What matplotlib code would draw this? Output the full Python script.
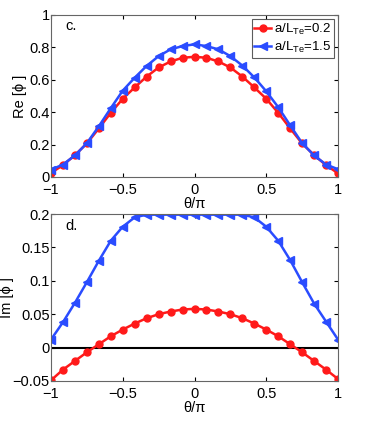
import numpy as np
import matplotlib
matplotlib.use('Agg')
import matplotlib.pyplot as plt

plt.rcParams['font.family'] = ['Liberation Sans', 'DejaVu Sans']
plt.rcParams['mathtext.fontset'] = 'custom'
plt.rcParams['mathtext.rm'] = 'Liberation Sans'
plt.rcParams['mathtext.it'] = 'Liberation Sans'

theta = np.linspace(-1, 1, 25)

re_02 = [0.025, 0.073, 0.135, 0.207, 0.300, 0.396, 0.483, 0.553, 0.620, 0.676, 0.713, 0.736, 0.742,
         0.736, 0.713, 0.676, 0.620, 0.553, 0.483, 0.396, 0.300, 0.207, 0.135, 0.073, 0.023]
re_15 = [0.045, 0.077, 0.133, 0.209, 0.313, 0.425, 0.533, 0.613, 0.686, 0.746, 0.788, 0.808, 0.819,
         0.808, 0.788, 0.746, 0.688, 0.615, 0.529, 0.431, 0.319, 0.209, 0.133, 0.077, 0.048]
im_02 = [-0.049, -0.033, -0.020, -0.007, 0.005, 0.017, 0.027, 0.036, 0.044, 0.050, 0.054, 0.057, 0.058,
         0.057, 0.054, 0.050, 0.044, 0.036, 0.027, 0.017, 0.005, -0.007, -0.020, -0.033, -0.047]
im_15 = [0.012, 0.038, 0.067, 0.098, 0.130, 0.160, 0.181, 0.195, 0.199, 0.199, 0.199, 0.199, 0.199,
         0.199, 0.199, 0.199, 0.199, 0.195, 0.181, 0.160, 0.131, 0.098, 0.066, 0.039, 0.012]

red = '#ff1a1a'
blue = '#2a4cff'

fig = plt.figure(figsize=(3.74, 4.28), dpi=100)
ax1 = fig.add_axes([51/374, 1-177/428, 287/374, 162/428])
ax2 = fig.add_axes([51/374, 1-381/428, 287/374, 167/428])

for ax in [ax1, ax2]:
    ax.tick_params(direction='in', top=True, right=True, labelsize=10.5, length=3)
    ax.tick_params(axis='x', pad=4.5)
    ax.tick_params(axis='y', pad=1)
    for s in ax.spines.values():
        s.set_color('#666666')
        s.set_linewidth(0.8)
    ax.set_xlim(-1, 1)
    ax.set_xticks([-1, -0.5, 0, 0.5, 1])
    ax.set_xticklabels(['\u22121', '\u22120.5', '0', '0.5', '1'])
    ax.set_xlabel('\u03b8/\u03c0', fontsize=10.5, labelpad=0)

ax1.plot(theta, re_02, '-o', color=red, lw=1.8, ms=5, mfc=red, mec=red,
         label='a/L$_{\\mathregular{Te}}$=0.2')
ax1.plot(theta, re_15, '-<', color=blue, lw=1.8, ms=5.5, mfc=blue, mec=blue,
         label='a/L$_{\\mathregular{Te}}$=1.5')
ax1.set_ylim(0, 1)
ax1.set_yticks([0, 0.2, 0.4, 0.6, 0.8, 1])
ax1.set_yticklabels(['0', '0.2', '0.4', '0.6', '0.8', '1'])
ax1.set_ylabel('Re [\u03d5 ]', fontsize=10.5)
ax1.yaxis.set_label_coords(-0.084, 0.5)
ax1.text(0.05, 0.93, 'c.', transform=ax1.transAxes, fontsize=10.5, va='center')
leg = ax1.legend(loc='upper right', fontsize=9.5, handlelength=1.3, handletextpad=0.2,
                 borderpad=0.2, labelspacing=0.25, fancybox=False, borderaxespad=0.3)
leg.get_frame().set_edgecolor('#333333')
leg.get_frame().set_linewidth(0.8)

ax2.axhline(0, color='black', lw=1.5)
ax2.plot(theta, im_02, '-o', color=red, lw=1.8, ms=5, mfc=red, mec=red)
ax2.plot(theta, im_15, '-<', color=blue, lw=1.8, ms=5.5, mfc=blue, mec=blue)
ax2.set_ylim(-0.05, 0.2)
ax2.set_yticks([-0.05, 0, 0.05, 0.1, 0.15, 0.2])
ax2.set_yticklabels(['\u22120.05', '0', '0.05', '0.1', '0.15', '0.2'])
ax2.set_ylabel('Im [\u03d5 ]', fontsize=10.5)
ax2.yaxis.set_label_coords(-0.129, 0.5)
ax2.text(0.05, 0.93, 'd.', transform=ax2.transAxes, fontsize=10.5, va='center')

fig.savefig('out.png', dpi=100)
